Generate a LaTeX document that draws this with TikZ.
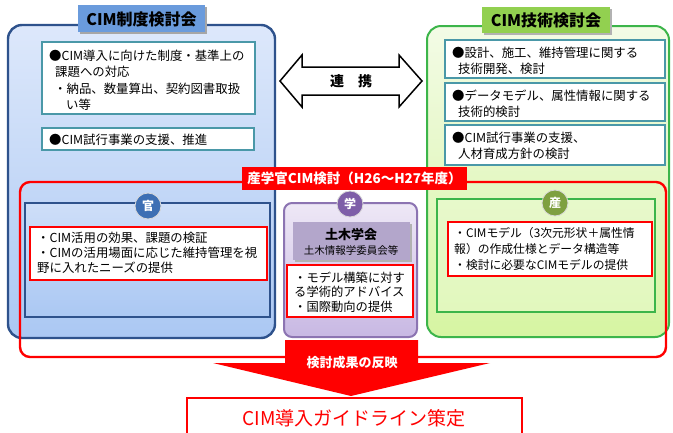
\documentclass[tikz,border=0pt]{standalone}
\usepackage{fontspec}
\setmainfont{Noto Sans CJK JP}
\definecolor{bluedark}{HTML}{2E528C}
\definecolor{bluetop}{HTML}{DDE8FB}
\definecolor{bluebot}{HTML}{ABC8F3}
\definecolor{bluetab}{HTML}{6A9BDC}
\definecolor{teal}{HTML}{4A98A8}
\definecolor{greenline}{HTML}{3CB54A}
\definecolor{greentop}{HTML}{F3FBE6}
\definecolor{greenbot}{HTML}{D6F5A2}
\definecolor{greentab}{HTML}{92D050}
\definecolor{purpline}{HTML}{8C74B2}
\definecolor{purptop}{HTML}{EEE8F6}
\definecolor{purpbot}{HTML}{C8B8E3}
\definecolor{purpgray}{HTML}{B3A6CB}
\definecolor{purpcirc}{HTML}{7E5EA8}
\definecolor{kancirc}{HTML}{3D6FB4}
\definecolor{sancirc}{HTML}{7EA040}
\definecolor{redc}{HTML}{FF0000}
\tikzset{
  body/.style={inner sep=0pt, anchor=west, align=left, font=\fontsize{12.4}{16.5}\selectfont},
  innerbox/.style={draw=teal, line width=1.6pt, fill=white},
  redbox/.style={draw=redc, line width=1.4pt, fill=white},
  tabtext/.style={font=\fontsize{16}{18}\selectfont\bfseries},
  circlab/.style={circle, minimum size=26pt, inner sep=0pt, text=white, draw=white!70!gray, line width=0.8pt, font=\fontsize{12}{14}\selectfont\bfseries},
}
\begin{document}
\begin{tikzpicture}[x=1pt,y=-1pt]
\clip (0,0) rectangle (673,432);
\fill[white] (0,0) rectangle (673,432);

% ---- CIM制度検討会 (blue)
\path[draw=bluedark, line width=2.4pt, rounded corners=14pt, top color=bluetop, bottom color=bluebot] (8,25) rectangle (275,338);
\fill[black!35] (80,7) rectangle (207,34);
\fill[bluetab] (78,5) rectangle (205,32);
\node[tabtext] (bt) at (141.5,19) {CIM制度検討会};
\draw[innerbox] (42,42) rectangle (255,114);
\node[body] (b1) at (49,80) {●CIM導入に向けた制度・基準上の\\\hspace{6pt}課題への対応\\\hspace{5pt}・納品、数量算出、契約図書取扱\\\hspace{17pt}い等};
\draw[innerbox] (42,128) rectangle (254,150);
\node[body] (b2) at (49,139.5) {●CIM試行事業の支援、推進};

% ---- CIM技術検討会 (green)
\path[draw=greenline, line width=2pt, rounded corners=14pt, top color=greentop, bottom color=greenbot] (427,26) rectangle (669,337);
\fill[black!30] (484,9) rectangle (612,35);
\fill[greentab] (482,7) rectangle (610,33);
\node[tabtext] (gt) at (546,20) {CIM技術検討会};
\draw[innerbox] (445,40) rectangle (665,78);
\node[body, font=\fontsize{12.4}{15.5}\selectfont] (g1) at (452,61) {●設計、施工、維持管理に関する\\\hspace{6pt}技術開発、検討};
\draw[innerbox] (445,83) rectangle (665,121);
\node[body, font=\fontsize{12.4}{15.5}\selectfont] (g2) at (452,103.5) {●データモデル、属性情報に関する\\\hspace{6pt}技術的検討};
\draw[innerbox] (445,125) rectangle (665,165);
\node[body, font=\fontsize{12.4}{15.5}\selectfont] (g3) at (452,146) {●CIM試行事業の支援、\\\hspace{6pt}人材育成方針の検討};

% ---- 連携 double arrow
\draw[black, line width=1.5pt, fill=white, line join=miter]
  (280,81) -- (302,55) -- (302,67) -- (399,67) -- (399,55) -- (422,81)
  -- (399,107) -- (399,95) -- (302,95) -- (302,107) -- cycle;
\node[font=\fontsize{14}{16}\selectfont\bfseries] (rk) at (351,81) {連　携};

% ---- 産学官 red frame
\draw[redc, line width=2.4pt, rounded corners=10pt] (20,182) rectangle (666,357);
\fill[redc] (242,167) rectangle (467,190);
\node[text=white, font=\fontsize{13.5}{16}\selectfont\bfseries] (rt) at (354.5,178.5) {産学官CIM検討（H26～H27年度）};

% ---- 官
\path[draw=bluedark, line width=1.2pt, top color=bluetop!70!bluebot, bottom color=bluebot] (25,203) rectangle (270,317);
\draw[redbox] (30,227) rectangle (267,280);
\node[body, font=\fontsize{12.4}{15}\selectfont] (k1) at (37,253) {・CIM活用の効果、課題の検証\\・CIMの活用場面に応じた維持管理を視\\野に入れたニーズの提供};
\node[circlab, fill=kancirc] (kan) at (148,206) {官};

% ---- 学
\path[draw=purpline, line width=2pt, rounded corners=8pt, top color=purptop, bottom color=purpbot] (284,203) rectangle (417,337);
\fill[black!30] (295,224) rectangle (412,262);
\fill[purpgray] (293,222) rectangle (410,260);
\node[font=\fontsize{13}{15}\selectfont\bfseries] (dg) at (351,235) {土木学会};
\node[font=\fontsize{10.5}{12}\selectfont] (dj) at (351,250) {土木情報学委員会等};
\draw[redbox] (287,265) rectangle (413,317);
\node[body, font=\fontsize{12.3}{14.5}\selectfont] (a1) at (294,292) {・モデル構築に対す\\る学術的アドバイス\\・国際動向の提供};
\node[circlab, fill=purpcirc] (gaku) at (350,204) {学};

% ---- 産
\path[draw=greenline, line width=1.5pt, top color=greentop!60!greenbot, bottom color=greentop!40!greenbot] (437,199) rectangle (655,312);
\draw[redbox] (448,222) rectangle (652,276);
\node[body, font=\fontsize{11.8}{16}\selectfont] (s1) at (454,249) {・CIMモデル（3次元形状＋属性情\\報）の作成仕様とデータ構造等\\・検討に必要なCIMモデルの提供};
\node[circlab, fill=sancirc] (san) at (555,203) {産};

% ---- down arrow
\fill[redc] (285,340) -- (418,340) -- (418,363) -- (490,363) -- (351,396) -- (213,363) -- (285,363) -- cycle;
\node[text=white, font=\fontsize{13}{15}\selectfont\bfseries] (hn) at (352,363) {検討成果の反映};

% ---- guideline box
\draw[redbox] (187,398) rectangle (522,445);
\node[text=redc, font=\fontsize{19}{22}\selectfont] (gl) at (354,418) {CIM導入ガイドライン策定};
\end{tikzpicture}
\end{document}
